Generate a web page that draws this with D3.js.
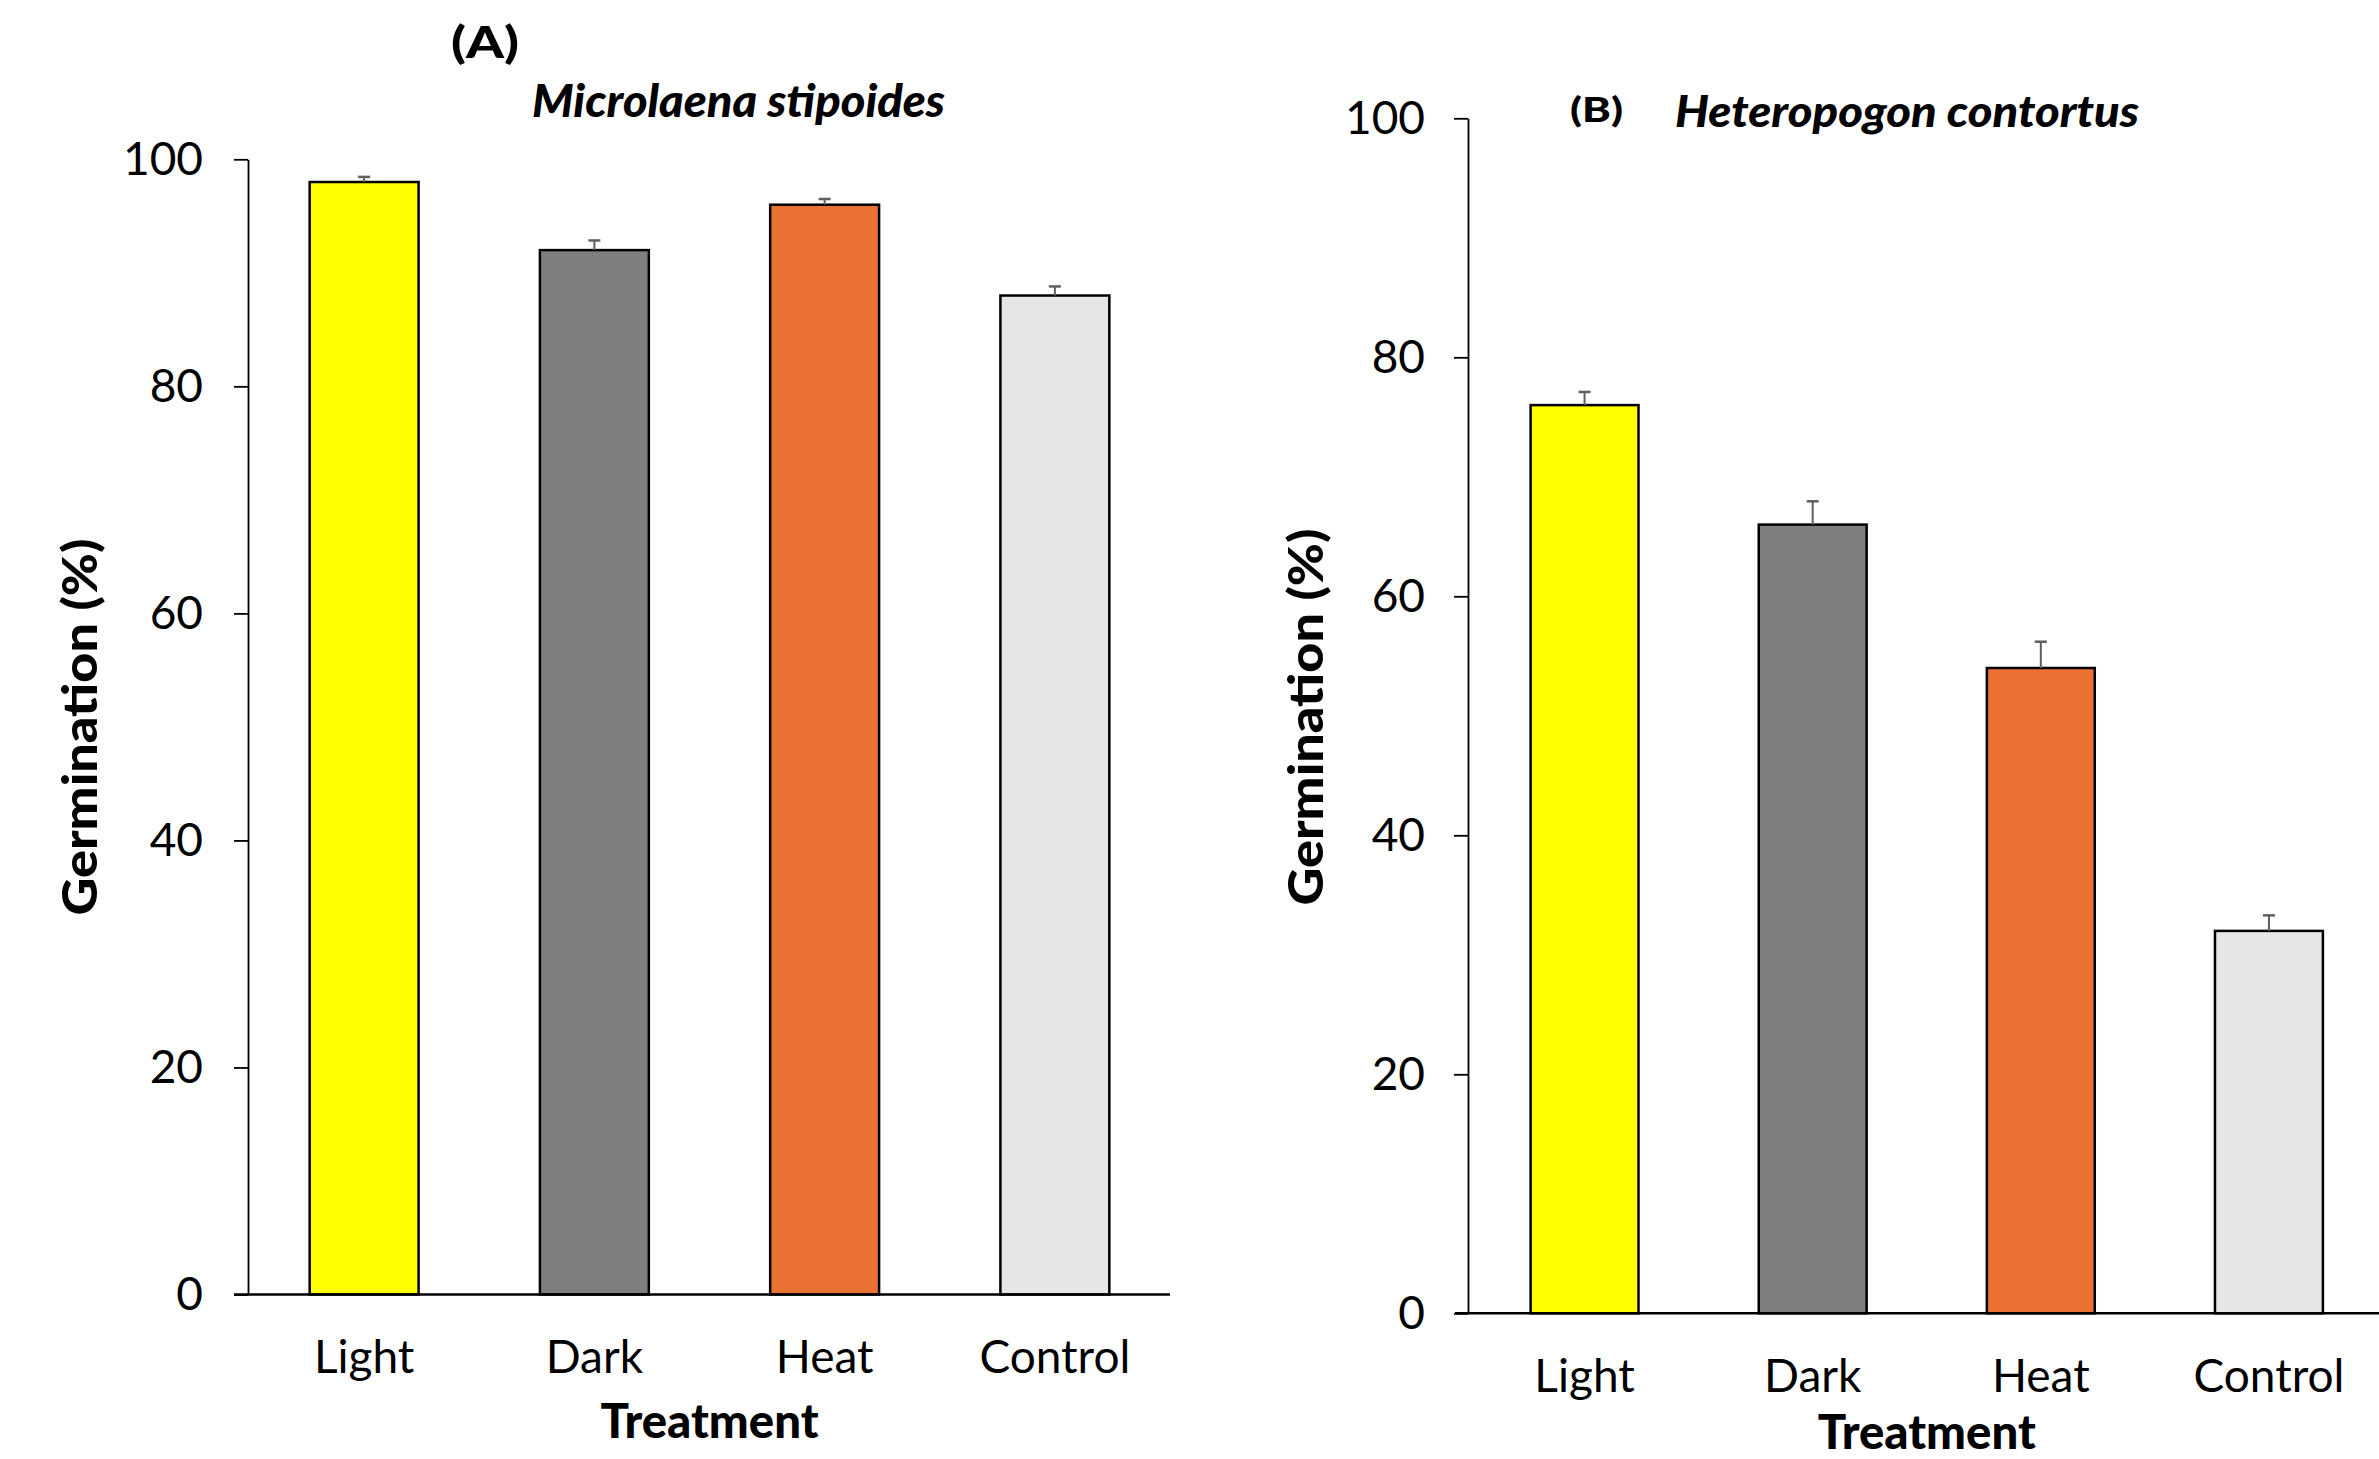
<!DOCTYPE html>
<html>
<head>
<meta charset="utf-8">
<script src="https://cdn.jsdelivr.net/npm/d3@7"></script>
<style>
  html, body { margin: 0; padding: 0; background: #ffffff; }
  svg { display: block; }
  text { font-family: Lato, "Liberation Sans", sans-serif; fill: #000; }
</style>
</head>
<body>
<svg id="chart" width="2379" height="1459"></svg>
<script>
// ---------- data ----------
const categories = ["Light", "Dark", "Heat", "Control"];
const barColors = ["#FFFF00", "#7F7F7F", "#E97132", "#E7E6E6"];
const valuesA = [98, 92, 96, 88];
const errorsA = [0.45, 0.85, 0.5, 0.8];
const valuesB = [76, 66, 54, 32];
const errorsB = [1.1, 1.95, 2.2, 1.3];
const yTicks = [0, 20, 40, 60, 80, 100];
const yDomain = [0, 100];
const panelLabels = ["(A)", "(B)"];
const speciesNames = ["Microlaena stipoides", "Heteropogon contortus"];
const yTitle = "Germination (%)";
const xTitle = "Treatment";

const svg = d3.select("#chart");

const panels = [
  {
    values: valuesA, errors: errorsA,
    axisX: 248, xRange: [249, 1170], yRange: [1294.5, 159.3],
    baseStart: 234, baseEnd: 1170,
    tickPad: 31, catBaseline: 1373, xTitleBaseline: 1438,
    yTitleX: 97, yTitleY: 727,
    label: { text: panelLabels[0], x: 451, y: 58, size: 43, len: 68 },
    species: { text: speciesNames[0], x: 532, y: 117, size: 46, len: 413 }
  },
  {
    values: valuesB, errors: errorsB,
    axisX: 1468, xRange: [1470.5, 2383], yRange: [1313.3, 118.3],
    baseStart: 1455, baseEnd: 2379,
    tickPad: 29, catBaseline: 1392, xTitleBaseline: 1449,
    yTitleX: 1323, yTitleY: 717,
    label: { text: panelLabels[1], x: 1570, y: 122, size: 35, len: 53 },
    species: { text: speciesNames[1], x: 1675, y: 127, size: 44, len: 464 }
  }
];

panels.forEach(p => {
  const g = svg.append("g");
  const x = d3.scaleBand().domain(categories).range(p.xRange)
    .paddingInner(0.527).paddingOuter(0.2635);
  const y = d3.scaleLinear().domain(yDomain).range(p.yRange);

  // bars
  g.selectAll("rect.bar").data(categories).join("rect")
    .attr("class", "bar")
    .attr("x", d => x(d))
    .attr("width", x.bandwidth())
    .attr("y", (d, i) => y(p.values[i]))
    .attr("height", (d, i) => y(0) - y(p.values[i]))
    .attr("fill", (d, i) => barColors[i])
    .attr("stroke", "#000")
    .attr("stroke-width", 2.5);

  // error bars (upper only)
  const eb = g.selectAll("g.err").data(categories).join("g").attr("class", "err");
  eb.append("line")
    .attr("x1", d => x(d) + x.bandwidth() / 2)
    .attr("x2", d => x(d) + x.bandwidth() / 2)
    .attr("y1", (d, i) => y(p.values[i]))
    .attr("y2", (d, i) => y(p.values[i] + p.errors[i]))
    .attr("stroke", "#5f5f5f").attr("stroke-width", 2);
  eb.append("line")
    .attr("x1", d => x(d) + x.bandwidth() / 2 - 6)
    .attr("x2", d => x(d) + x.bandwidth() / 2 + 6)
    .attr("y1", (d, i) => y(p.values[i] + p.errors[i]))
    .attr("y2", (d, i) => y(p.values[i] + p.errors[i]))
    .attr("stroke", "#5f5f5f").attr("stroke-width", 2.5);

  // y axis
  const yAxis = d3.axisLeft(y).tickValues(yTicks).tickFormat(d3.format("d"))
    .tickSize(14).tickSizeOuter(0).tickPadding(p.tickPad);
  const ya = g.append("g").attr("transform", `translate(${p.axisX},0)`).call(yAxis);
  ya.select(".domain").attr("stroke", "#000").attr("stroke-width", 1.8);
  ya.selectAll(".tick line").attr("stroke", "#000").attr("stroke-width", 1.8);
  ya.selectAll(".tick text")
    .style("font-family", "Lato, sans-serif")
    .style("font-size", "46px")
    .attr("fill", "#000");

  // x baseline
  g.append("line")
    .attr("x1", p.baseStart).attr("x2", p.baseEnd)
    .attr("y1", y(0)).attr("y2", y(0))
    .attr("stroke", "#000").attr("stroke-width", 2.5);

  // category labels
  g.selectAll("text.cat").data(categories).join("text")
    .attr("class", "cat")
    .attr("x", d => x(d) + x.bandwidth() / 2)
    .attr("y", p.catBaseline)
    .attr("text-anchor", "middle")
    .style("font-size", "46px")
    .text(d => d);

  // x title
  g.append("text")
    .attr("x", (p.xRange[0] + p.xRange[1]) / 2)
    .attr("y", p.xTitleBaseline)
    .attr("text-anchor", "middle")
    .style("font-size", "47px").style("font-weight", "900")
    .attr("textLength", 218).attr("lengthAdjust", "spacingAndGlyphs")
    .text(xTitle);

  // y title
  g.append("text")
    .attr("transform", `translate(${p.yTitleX},${p.yTitleY}) rotate(-90)`)
    .attr("text-anchor", "middle")
    .style("font-size", "48px").style("font-weight", "900")
    .attr("textLength", 377).attr("lengthAdjust", "spacingAndGlyphs")
    .text(yTitle);

  // panel label
  g.append("text")
    .attr("x", p.label.x).attr("y", p.label.y)
    .style("font-size", p.label.size + "px").style("font-weight", "900")
    .attr("textLength", p.label.len).attr("lengthAdjust", "spacingAndGlyphs")
    .text(p.label.text);

  // species name
  g.append("text")
    .attr("x", p.species.x).attr("y", p.species.y)
    .style("font-size", p.species.size + "px").style("font-weight", "900")
    .style("font-style", "italic")
    .attr("textLength", p.species.len).attr("lengthAdjust", "spacingAndGlyphs")
    .text(p.species.text);
});
</script>
</body>
</html>
